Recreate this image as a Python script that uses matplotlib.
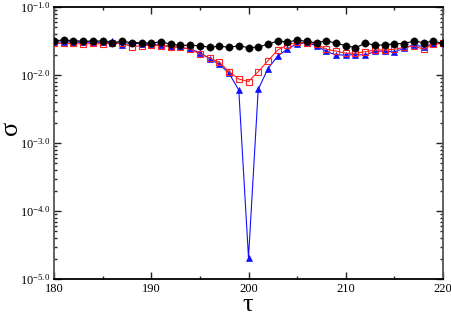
import matplotlib
matplotlib.use("Agg")
import matplotlib.pyplot as plt
import numpy as np
from matplotlib.ticker import FixedLocator, FuncFormatter, LogLocator, MultipleLocator

plt.rcParams['mathtext.fontset'] = 'custom'
plt.rcParams['mathtext.rm'] = 'Liberation Serif'
plt.rcParams['mathtext.it'] = 'Liberation Serif:italic'
plt.rcParams['font.family'] = ['Liberation Serif', 'DejaVu Serif']

tau = list(range(180, 221))

sigma_black = [0.0320, 0.0327, 0.0320, 0.0313, 0.0316, 0.0316, 0.0299, 0.0313, 0.0299, 0.0299,
               0.0293, 0.0309, 0.0283, 0.0273, 0.0273, 0.0270, 0.0255, 0.0267, 0.0255, 0.0270,
               0.0252, 0.0258, 0.0283, 0.0316, 0.0306, 0.0324, 0.0313, 0.0296, 0.0320, 0.0293,
               0.0270, 0.0252, 0.0293, 0.0276, 0.0276, 0.0289, 0.0289, 0.0316, 0.0299, 0.0313,
               0.0293]

sigma_red = [0.0291, 0.0291, 0.0291, 0.0286, 0.0291, 0.0286, 0.0296, 0.0291, 0.0262, 0.0267,
             0.0276, 0.0270, 0.0262, 0.0255, 0.0241, 0.0204, 0.0178, 0.0154, 0.0112, 0.00873,
             0.00802, 0.0112, 0.0162, 0.0233, 0.0276, 0.0303, 0.0299, 0.0286, 0.0239, 0.0225,
             0.0209, 0.0209, 0.0220, 0.0233, 0.0233, 0.0239, 0.0255, 0.0267, 0.0239, 0.0286,
             0.0293]

sigma_blue = [0.0306, 0.0306, 0.0306, 0.0301, 0.0306, 0.0301, 0.0316, 0.0276, 0.0296, 0.0286,
              0.0281, 0.0276, 0.0261, 0.0254, 0.0241, 0.0213, 0.0174, 0.0144, 0.0106, 0.00602,
              2.06e-5, 0.00616, 0.0124, 0.0190, 0.0241, 0.0289, 0.0296, 0.0269, 0.0223, 0.0197,
              0.0197, 0.0199, 0.0197, 0.0223, 0.0225, 0.0218, 0.0249, 0.0276, 0.0261, 0.0286,
              0.0293]

x_ticks = [180, 190, 200, 210, 220]
y_decades = [1e-5, 1e-4, 1e-3, 1e-2, 1e-1]

fig = plt.figure(figsize=(4.52, 3.13), dpi=100)
ax = fig.add_axes([54/452, 1 - 279/313, (443 - 54)/452, (279 - 7)/313])

ax.plot(tau, sigma_blue, color='#1010ff', lw=0.8, marker='^', ms=4.5,
        markerfacecolor='#1010ff', markeredgecolor='#1010ff', markeredgewidth=0.5, zorder=2)
ax.plot(tau, sigma_red, color='#ff2020', lw=0.8, marker='s', ms=4,
        markerfacecolor='none', markeredgecolor='#ff2020', markeredgewidth=0.8, zorder=3)
ax.plot(tau, sigma_black, color='black', lw=0.8, marker='o', ms=5.3,
        markerfacecolor='black', markeredgecolor='black', markeredgewidth=0.3, zorder=4)

ax.set_yscale('log')
ax.set_xlim(180, 220)
ax.set_ylim(1e-5, 1e-1)

ax.xaxis.set_major_locator(FixedLocator(x_ticks))
ax.xaxis.set_minor_locator(MultipleLocator(5))
ax.yaxis.set_major_locator(FixedLocator(y_decades))
ax.yaxis.set_minor_locator(LogLocator(base=10, subs=np.arange(2, 10)))
ax.yaxis.set_major_formatter(FuncFormatter(
    lambda v, p: r'$\mathregular{10^{%.1f}}$' % np.log10(v)))
ax.xaxis.set_major_formatter(FuncFormatter(lambda v, p: '%d' % v))

ax.tick_params(which='both', direction='in', top=True, right=True, labelsize=9, color='#222222')
ax.tick_params(which='major', length=5, width=1.0, pad=3)
ax.tick_params(which='minor', length=2.5, width=1.0)
for s in ax.spines.values():
    s.set_linewidth(1.3)
ax.spines['left'].set_color('#555555')
ax.spines['right'].set_color('#555555')

ax.set_xlabel(r'$\mathregular{\tau}$', fontsize=19)
ax.xaxis.set_label_coords(0.5, -0.054)
ax.set_ylabel(r'$\mathregular{\sigma}$', fontsize=19, rotation=90)
ax.yaxis.set_label_coords(-0.08, 0.55)

fig.savefig('out.png', dpi=100)
